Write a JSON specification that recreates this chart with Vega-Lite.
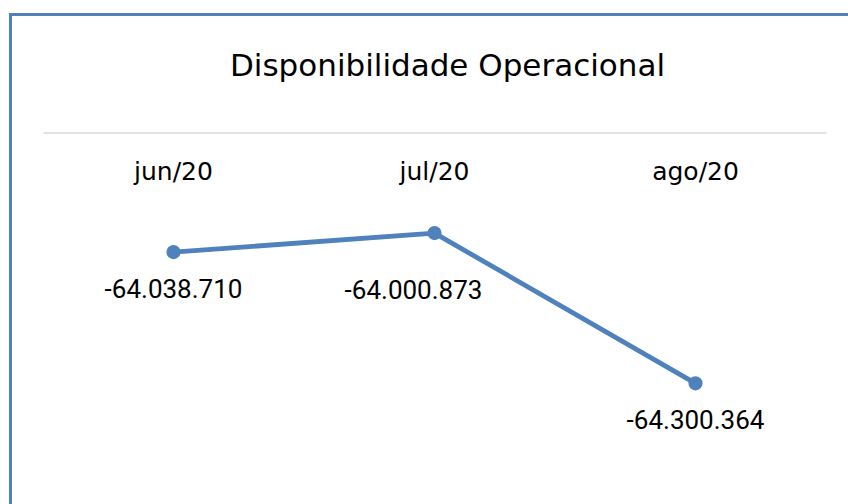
{
  "$schema": "https://vega.github.io/schema/vega-lite/v6.json",
  "width": 783,
  "height": 490,
  "autosize": {"type": "none"},
  "padding": {"left": 43, "top": 14, "right": 22, "bottom": 0},
  "background": "white",
  "title": {
    "text": "Disponibilidade Operacional",
    "anchor": "middle",
    "frame": "group",
    "orient": "top",
    "baseline": "alphabetic",
    "offset": 0,
    "dy": 95,
    "dx": 13,
    "font": "DejaVu Sans",
    "fontSize": 31,
    "fontWeight": "normal",
    "color": "#000000"
  },
  "config": {
    "view": {"stroke": null},
    "locale": {
      "number": {"decimal": ",", "thousands": ".", "grouping": [3], "currency": ["R$", ""], "minus": "-"}
    }
  },
  "data": {
    "values": [
      {"mes": "jun/20", "valor": -64038710},
      {"mes": "jul/20", "valor": -64000873},
      {"mes": "ago/20", "valor": -64300364}
    ]
  },
  "encoding": {
    "x": {
      "field": "mes",
      "type": "ordinal",
      "sort": null,
      "scale": {"type": "band", "paddingInner": 0, "paddingOuter": 0},
      "axis": {
        "orient": "bottom",
        "offset": -371.5,
        "title": null,
        "domainColor": "#D9D9D9",
        "domainWidth": 1.3,
        "ticks": false,
        "tickSize": 0,
        "grid": false,
        "labelAngle": 0,
        "labelPadding": 47,
        "labelBaseline": "alphabetic",
        "labelFont": "DejaVu Sans",
        "labelFontSize": 25,
        "labelColor": "#000000"
      }
    },
    "y": {
      "field": "valor",
      "type": "quantitative",
      "scale": {"domain": [-64541000, -63564000], "nice": false, "zero": false},
      "axis": {
        "orient": "left",
        "offset": 33,
        "title": null,
        "labels": false,
        "grid": false,
        "domainColor": "#4F81BD",
        "domainWidth": 3,
        "domainCap": "square",
        "ticks": true,
        "values": [-63564000],
        "tickColor": "#4F81BD",
        "tickWidth": 3,
        "tickSize": -839,
        "tickCap": "square"
      }
    }
  },
  "layer": [
    {"mark": {"type": "line", "color": "#4F81BD", "strokeWidth": 4.8, "strokeCap": "round", "strokeJoin": "round"}},
    {"mark": {"type": "point", "filled": true, "opacity": 1, "size": 200, "color": "#4F81BD"}},
    {
      "transform": [{"filter": "datum.mes != 'jul/20'"}],
      "mark": {"type": "text", "dy": 46, "baseline": "alphabetic", "font": "Roboto", "fontSize": 26, "color": "#000000"},
      "encoding": {"text": {"field": "valor", "type": "quantitative", "format": ",d"}}
    },
    {
      "transform": [{"filter": "datum.mes == 'jul/20'"}],
      "mark": {"type": "text", "dy": 66, "dx": -21, "baseline": "alphabetic", "font": "Roboto", "fontSize": 26, "color": "#000000"},
      "encoding": {"text": {"field": "valor", "type": "quantitative", "format": ",d"}}
    }
  ]
}
